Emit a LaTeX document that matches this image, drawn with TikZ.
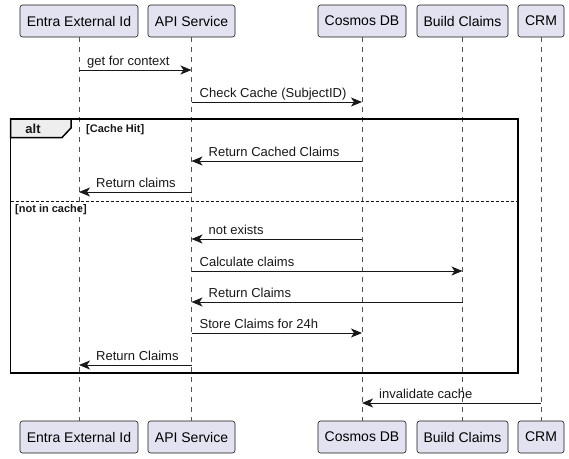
\documentclass[tikz,border=0pt]{standalone}
\usepackage{fontspec}
\setmainfont{Liberation Sans}
\usetikzlibrary{arrows.meta,calc}
\definecolor{partfill}{HTML}{E2E2F0}
\definecolor{ink}{HTML}{181818}
\definecolor{tabfill}{HTML}{EEEEEE}
\tikzset{
  part/.style={draw=ink, fill=partfill, rounded corners=2.5pt, line width=0.6pt,
    minimum height=32pt, inner sep=0pt, font=\fontsize{14}{16}\selectfont},
  life/.style={draw=ink!75, line width=0.6pt, dash pattern=on 5pt off 5pt},
  msgline/.style={draw=ink, line width=1pt, -{Stealth[length=11pt,width=9pt,inset=3pt]}},
  lbl/.style={font=\fontsize{13}{15}\selectfont, inner sep=0pt, anchor=base west, text=ink},
  guard/.style={font=\bfseries\fontsize{11}{13}\selectfont, inner sep=0pt, anchor=base west, text=ink},
  frame/.style={draw=black, line width=1.5pt},
}
\newcommand\msgright[4]{% from, to, y, label
  \draw[msgline] (#1 |- 0,#3) -- (#2 |- 0,#3);
  \node[lbl] at ($(#1 |- 0,#3)+(8,-5)$) {#4};}
\newcommand\msgleft[4]{% from, to, y, label
  \draw[msgline] (#1 |- 0,#3) -- (#2 |- 0,#3);
  \node[lbl] at ($(#2 |- 0,#3)+(17,-5)$) {#4};}
\begin{document}
\begin{tikzpicture}[x=1pt,y=-1pt]
\useasboundingbox (0,0) rectangle (569,458);
% participants top
\node[part, minimum width=118pt] (eT) at (79,21) {Entra External Id};
\node[part, minimum width=87pt] (aT) at (191.5,21) {API Service};
\node[part, minimum width=88pt] (cT) at (362,21) {Cosmos DB};
\node[part, minimum width=91pt] (bT) at (462.5,21) {Build Claims};
\node[part, minimum width=46pt] (rT) at (541,21) {CRM};
% participants bottom
\node[part, minimum width=118pt] (eB) at (79,437) {Entra External Id};
\node[part, minimum width=87pt] (aB) at (191.5,437) {API Service};
\node[part, minimum width=88pt] (cB) at (362,437) {Cosmos DB};
\node[part, minimum width=91pt] (bB) at (462.5,437) {Build Claims};
\node[part, minimum width=46pt] (rB) at (541,437) {CRM};
% lifelines
\foreach \p in {e,a,c,b,r}{\draw[life] (\p T.south) -- (\p B.north);}
% messages
\msgright{eT}{aT}{70}{get for context}
\msgright{aT}{cT}{102}{Check Cache (SubjectID)}
% alt frame
\draw[frame] (10.5,119) rectangle (518,373);
\draw[frame, fill=tabfill] (10.5,119) -- (71,119) -- (71,128) -- (62,137.5) -- (10.5,137.5) -- cycle;
\node[font=\bfseries\fontsize{13}{15}\selectfont, inner sep=0pt, text=ink] (alt) at (33,128.5) {alt};
\node[guard] (g1) at (86,132) {[Cache Hit]};
\msgleft{cT}{aT}{161}{Return Cached Claims}
\msgleft{aT}{eT}{192}{Return claims}
\draw[ink, line width=1pt, dash pattern=on 3pt off 2pt] (10.5,201) -- (518,201);
\node[guard] (g2) at (15,212.5) {[not in cache]};
\msgleft{cT}{aT}{239}{not exists}
\msgright{aT}{bT}{271}{Calculate claims}
\msgleft{bT}{aT}{302}{Return Claims}
\msgright{aT}{cT}{333}{Store Claims for 24h}
\msgleft{aT}{eT}{365}{Return Claims}
\msgleft{rT}{cT}{403}{invalidate cache}
\end{tikzpicture}
\end{document}
